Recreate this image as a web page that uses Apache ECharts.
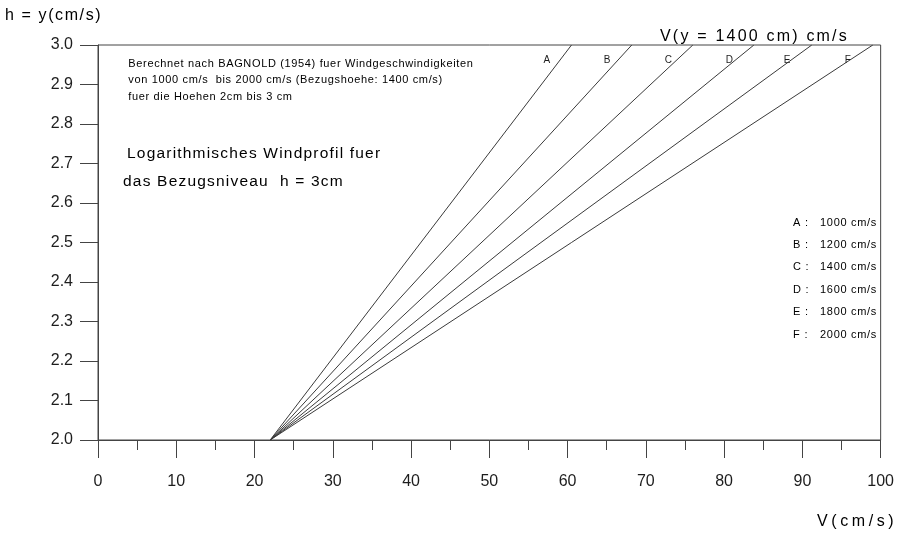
<!DOCTYPE html>
<html>
<head>
<meta charset="utf-8">
<style>
  html, body { margin: 0; padding: 0; background: #fff; }
  #chart { width: 897px; height: 534px; }
</style>
<script src="https://cdn.jsdelivr.net/npm/echarts@6/dist/echarts.min.js"></script>
</head>
<body>
<div id="chart"></div>
<script>
// Wind profile curves: every line runs from the common origin at h = 2 cm
// up to the wind speed reached at h = 3 cm.
const curveNames = ['A', 'B', 'C', 'D', 'E', 'F'];
const refSpeeds = [1000, 1200, 1400, 1600, 1800, 2000];   // cm/s at 1400 cm
const speedAtTop = [60.5, 68.2, 76.0, 83.8, 91.2, 99.0];  // V at h = 3 cm
const speedAtBottom = 22;                                 // V at h = 2 cm
const heightRange = [2.0, 3.0];
const xTickStep = 10;
const yTickStep = 0.1;

const ink = '#1d1d1d';
const font = '"Liberation Sans", Arial, sans-serif';

// Letter-spaced text built from rich-text fragments (one line per entry)
function tracked(str) {
  return str.split('\n').map(line =>
    line.split('').map(ch => '{t|' + ch + '}').join('')
  ).join('\n');
}
function trackedRich(size, gap, extra) {
  return {
    t: Object.assign({
      fontSize: size, fontFamily: font, color: ink,
      padding: [0, gap / 2, 0, gap / 2]
    }, extra || {})
  };
}

const chart = echarts.init(document.getElementById('chart'), null, { renderer: 'canvas' });

const series = curveNames.map((name, i) => ({
  type: 'line',
  name: name,
  data: [[speedAtBottom, heightRange[0]], [speedAtTop[i], heightRange[1]]],
  showSymbol: false,
  silent: true,
  lineStyle: { color: '#3a3a3a', width: 1 },
  endLabel: {
    show: true,
    formatter: name,
    offset: [-36, 15],
    fontSize: 10,
    fontFamily: font,
    color: ink
  }
}));

const legendRows = [];
curveNames.forEach((name, i) => {
  const y = 223 + i * 22.4;
  legendRows.push({
    type: 'text', left: 793, top: y - 6,
    style: { text: tracked(name + ' :'), rich: trackedRich(11, 0.8) }
  });
  legendRows.push({
    type: 'text', left: 820, top: y - 6,
    style: { text: tracked(refSpeeds[i] + ' cm/s'), rich: trackedRich(11, 0.7) }
  });
});

const noteLines = [
  'Berechnet nach BAGNOLD (1954) fuer Windgeschwindigkeiten',
  'von 1000 cm/s  bis 2000 cm/s (Bezugshoehe: 1400 cm/s)',
  'fuer die Hoehen 2cm bis 3 cm'
];

chart.setOption({
  animation: false,
  backgroundColor: '#fff',
  grid: {
    left: 98, right: 12, top: 45, bottom: 94,
    show: true, borderColor: '#444', borderWidth: 1
  },
  xAxis: {
    type: 'value',
    min: 0, max: 100, interval: xTickStep,
    axisLine: { show: true, onZero: false, lineStyle: { color: '#444', width: 1 } },
    axisTick: { show: true, inside: false, length: 18, lineStyle: { color: '#444' } },
    minorTick: { show: true, splitNumber: 2, length: 10, lineStyle: { color: '#444' } },
    splitLine: { show: false },
    axisLabel: { margin: 34, fontSize: 16, fontFamily: font, color: ink }
  },
  yAxis: {
    type: 'value',
    min: heightRange[0], max: heightRange[1], interval: yTickStep,
    axisLine: { show: true, onZero: false, lineStyle: { color: '#444', width: 1 } },
    axisTick: { show: true, inside: false, length: 18, lineStyle: { color: '#444' } },
    splitLine: { show: false },
    axisLabel: {
      margin: 25, fontSize: 16, fontFamily: font, color: ink,
      formatter: v => v.toFixed(1)
    }
  },
  series: series,
  graphic: [
    {
      type: 'text', left: 5, top: 8,
      style: { text: tracked('h = y(cm/s)'), rich: trackedRich(16, 1.6) }
    },
    {
      type: 'text', left: 660, top: 29,
      style: { text: tracked('V(y = 1400 cm) cm/s'), rich: trackedRich(16, 2.2) }
    },
    {
      type: 'text', left: 817, top: 514,
      style: { text: tracked('V(cm/s)'), rich: trackedRich(16, 3.6) }
    },
    {
      type: 'text', left: 128, top: 58,
      style: { text: tracked(noteLines.join('\n')), rich: trackedRich(11, 0.65, { lineHeight: 16.5 }) }
    },
    {
      type: 'text', left: 127, top: 146,
      style: { text: tracked('Logarithmisches Windprofil fuer'), rich: trackedRich(15.5, 1.2) }
    },
    {
      type: 'text', left: 123, top: 174,
      style: { text: tracked('das Bezugsniveau  h = 3cm'), rich: trackedRich(15.5, 1.2) }
    }
  ].concat(legendRows)
});
</script>
</body>
</html>
